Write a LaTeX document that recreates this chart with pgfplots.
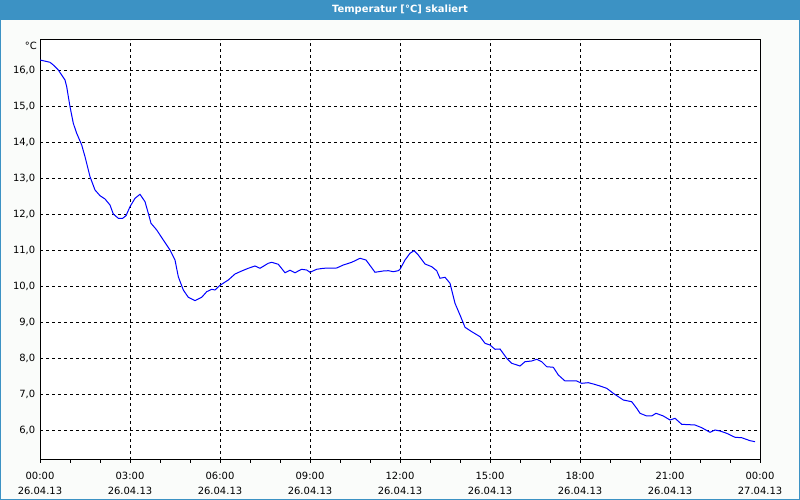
\documentclass[border=0pt]{standalone}
\usepackage{fontspec}
\setmainfont{DejaVu Sans}
\usepackage{pgfplots}
\pgfplotsset{compat=1.18}
\definecolor{titlebar}{RGB}{60,146,196}
\definecolor{framebg}{RGB}{250,252,250}
\begin{document}
\begin{tikzpicture}[x=1bp,y=1bp]
\useasboundingbox (0,0) rectangle (800,500);
\fill[framebg] (0,0) rectangle (800,500);
\fill[titlebar] (0,480) rectangle (800,500);
\draw[titlebar, line width=2bp] (0,0) rectangle (800,500);
\node[text=white, font=\fontsize{10}{12}\selectfont\bfseries] at (400,490) {Temperatur [°C] skaliert};
\node[anchor=east, font=\fontsize{10}{11}\selectfont, inner sep=0pt] at (37,454) {°C};
\begin{axis}[
  at={(40bp,40bp)}, anchor=south west,
  scale only axis, width=720bp, height=420bp,
  xmin=0, xmax=24, ymin=5.166667, ymax=16.833333,
  axis background/.style={fill=white},
  axis line style={black, line width=1bp},
  /pgf/number format/assume math mode=true,
  xtick={0,3,...,24},
  xticklabels={{00:00\\26.04.13},{03:00\\26.04.13},{06:00\\26.04.13},{09:00\\26.04.13},{12:00\\26.04.13},{15:00\\26.04.13},{18:00\\26.04.13},{21:00\\26.04.13},{00:00\\27.04.13}},
  minor x tick num=2,
  ytick={6,7,...,16},
  xtick pos=bottom, ytick pos=left,
  tick align=outside,
  xtick style={black, line width=0.8bp, /pgfplots/major tick length=3bp, /pgfplots/minor tick length=3bp},
  ytick style={draw=none},
  xticklabel style={align=center, font=\fontsize{10}{15}\selectfont, text=black, yshift=-4bp},
  yticklabel style={font=\fontsize{10}{11}\selectfont, text=black, xshift=3bp,
     /pgf/number format/.cd, fixed, fixed zerofill, precision=1, use comma},
  grid=major,
  grid style={black, line width=0.8bp, dash pattern=on 3bp off 3bp},
]
\addplot[blue, line width=1bp, mark=none] coordinates {
(0,16.278) (0.333,16.214) (0.443,16.139) (0.61,16.0) (0.833,15.722) (0.89,15.536)
(1.0,14.981) (1.11,14.519) (1.223,14.242) (1.39,13.917) (1.5,13.592) (1.667,13.036)
(1.833,12.667) (2.0,12.508) (2.167,12.417) (2.333,12.25) (2.443,12.0) (2.61,11.881)
(2.757,11.881) (2.867,11.953) (3.0,12.203) (3.167,12.436) (3.333,12.547) (3.5,12.342)
(3.61,12.019) (3.7,11.742) (3.89,11.556) (4.11,11.278) (4.333,11.0) (4.5,10.722)
(4.61,10.258) (4.777,9.889) (4.943,9.686) (5.167,9.592) (5.39,9.686) (5.557,9.842)
(5.723,9.908) (5.833,9.889) (6.0,10.019) (6.277,10.167) (6.5,10.333) (6.723,10.417)
(6.943,10.492) (7.167,10.556) (7.333,10.492) (7.61,10.631) (7.723,10.658) (7.943,10.603)
(8.167,10.369) (8.333,10.436) (8.5,10.369) (8.723,10.464) (8.89,10.444) (9.0,10.381)
(9.223,10.464) (9.443,10.492) (9.89,10.5) (10.11,10.583) (10.39,10.658) (10.667,10.769)
(10.867,10.722) (11.167,10.381) (11.443,10.417) (11.61,10.425) (11.777,10.397) (11.943,10.425)
(12.0,10.464) (12.167,10.722) (12.333,10.908) (12.467,10.981) (12.61,10.861) (12.833,10.611)
(13.057,10.536) (13.223,10.425) (13.333,10.214) (13.5,10.242) (13.667,10.075) (13.833,9.519)
(14.0,9.194) (14.167,8.853) (14.39,8.731) (14.667,8.592) (14.833,8.408) (15.0,8.361)
(15.167,8.242) (15.333,8.25) (15.557,7.992) (15.723,7.853) (16.0,7.778) (16.167,7.897)
(16.39,7.917) (16.557,7.964) (16.723,7.897) (16.89,7.758) (17.11,7.742) (17.277,7.528)
(17.5,7.361) (17.89,7.361) (18.057,7.297) (18.277,7.314) (18.443,7.278) (18.667,7.222)
(18.89,7.158) (19.11,7.019) (19.443,6.833) (19.723,6.786) (19.89,6.603) (20.0,6.464)
(20.223,6.389) (20.39,6.389) (20.533,6.464) (20.777,6.389) (21.0,6.278) (21.167,6.325)
(21.39,6.158) (21.833,6.139) (22.057,6.064) (22.333,5.936) (22.5,6.0) (22.667,5.972)
(22.89,5.908) (23.167,5.797) (23.39,5.786) (23.667,5.703) (23.833,5.675)
};
\end{axis}
\end{tikzpicture}
\end{document}
